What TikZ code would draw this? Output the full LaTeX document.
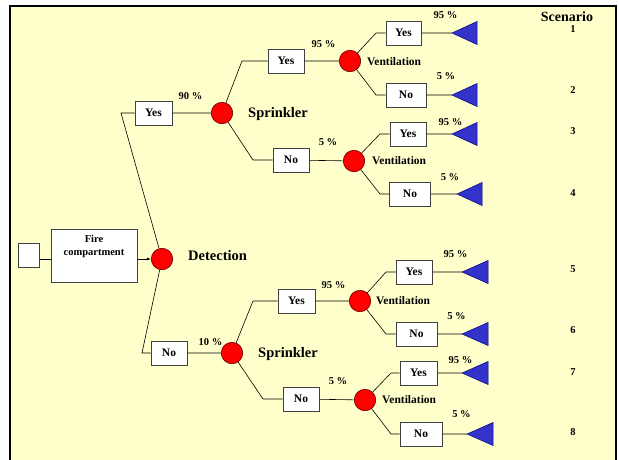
\documentclass[tikz,border=0pt]{standalone}
\usepackage{fontspec}
\setmainfont{Liberation Serif}
\usetikzlibrary{arrows.meta}
\definecolor{bg}{HTML}{FFFFCC}
\definecolor{triblue}{HTML}{3333CC}
\begin{document}
\begin{tikzpicture}[x=1pt,y=-1pt,
  box/.style={draw=black!75, line width=1pt, fill=white, inner sep=0pt,
    minimum height=24pt, font=\fontsize{11.5}{12}\selectfont\bfseries},
  chance/.style={circle, draw=black!60!red, fill=red, minimum size=21.5pt, inner sep=0pt, line width=0.6pt},
  pct/.style={font=\fontsize{10.5}{12}\selectfont\bfseries, inner sep=0pt},
  big/.style={font=\fontsize{14.5}{16}\selectfont\bfseries, inner sep=0pt, anchor=west},
  vent/.style={font=\fontsize{11.5}{13}\selectfont\bfseries, inner sep=0pt, anchor=west},
  num/.style={font=\fontsize{10.5}{12}\selectfont\bfseries, inner sep=0pt},
  link/.style={draw, line width=0.6pt},
  tri/.style={fill=triblue, draw=black!50!blue, line width=0.5pt}]
\useasboundingbox (0,0) rectangle (619,459);
\begin{scope}
  \clip (0,0) rectangle (619,459);
  \draw[line width=2.5pt, fill=bg] (10,6) rectangle (616,480);
\end{scope}

% start
\node[box, minimum width=21pt, minimum height=24pt] (S) at (28.5,255) {};
\node[box, minimum width=86pt, minimum height=53pt, font=\fontsize{10.5}{12}\selectfont\bfseries] (F) at (94,255.5)
  {\parbox[t][46pt][t]{84pt}{\centering\vspace*{3pt}Fire\\[1pt]compartment}};
\node[chance] (D) at (162,259) {};
\node[big] (Dl) at (188,256) {Detection};
\draw[link] (S.east |- D) -- (F.west |- D);
\draw[link, -{Latex[length=4pt,width=3pt]}] (F.east |- D) -- (D);

% Detection yes
\coordinate (a1) at (121,113);
\node[box, minimum width=37pt] (Y1) at (153.5,113) {Yes};
\node[chance] (S1) at (222,113) {};
\node[pct] (p1) at (190.5,96) {90 \%};
\node[big] (S1l) at (248,114) {Sprinkler};
\draw[link] (D) -- (a1) -- (Y1) (Y1) -- (S1);

% Detection no
\coordinate (a2) at (142,353);
\node[box, minimum width=36pt] (N1) at (169,353) {No};
\node[chance] (S2) at (232,353) {};
\node[pct] (p2) at (210.5,342) {10 \%};
\node[big] (S2l) at (258,354) {Sprinkler};
\draw[link] (D) -- (a2) -- (N1) (N1) -- (S2);

% Sprinkler 1 yes
\coordinate (b1) at (242,61);
\node[box, minimum width=36pt] (Y2) at (286,61) {Yes};
\node[chance] (V1) at (350,61) {};
\node[pct] (p3) at (323.5,44) {95 \%};
\node[vent] (V1l) at (367,62) {Ventilation};
\draw[link] (S1) -- (b1) -- (Y2) (Y2) -- (V1);

% Sprinkler 1 no
\coordinate (b2) at (253,160);
\node[box, minimum width=36pt] (N2) at (291,160) {No};
\node[chance] (V2) at (354,161) {};
\node[pct] (p4) at (328,142) {5 \%};
\node[vent] (V2l) at (372,161) {Ventilation};
\draw[link] (S1) -- (b2) -- (N2) (N2) -- (V2);

% Ventilation 1
\coordinate (c1) at (376,33);
\node[box, minimum width=35pt] (Y3) at (403.5,33) {Yes};
\coordinate (T1) at (452,33);
\node[pct] (p5) at (445.5,15) {95 \%};
\draw[link] (V1) -- (c1) -- (Y3) (Y3) -- (T1);
\draw[tri] (T1) -- ++(25,-11.5) -- ++(0,23) -- cycle;

\coordinate (c2) at (376,95);
\node[box, minimum width=40pt] (N3) at (406,95) {No};
\coordinate (T2) at (452,95);
\node[pct] (p6) at (446,76) {5 \%};
\draw[link] (V1) -- (c2) -- (N3) (N3) -- (T2);
\draw[tri] (T2) -- ++(25,-11.5) -- ++(0,23) -- cycle;

% Ventilation 2
\coordinate (c3) at (380,134);
\node[box, minimum width=36pt] (Y4) at (408,134) {Yes};
\coordinate (T3) at (452,134);
\node[pct] (p7) at (450.5,122) {95 \%};
\draw[link] (V2) -- (c3) -- (Y4) (Y4) -- (T3);
\draw[tri] (T3) -- ++(25,-11.5) -- ++(0,23) -- cycle;

\coordinate (c4) at (380,194);
\node[box, minimum width=41pt] (N4) at (410,194) {No};
\coordinate (T4) at (457,194);
\node[pct] (p8) at (450,177) {5 \%};
\draw[link] (V2) -- (c4) -- (N4) (N4) -- (T4);
\draw[tri] (T4) -- ++(25,-11.5) -- ++(0,23) -- cycle;

% Sprinkler 2 yes
\coordinate (b3) at (253,301);
\node[box, minimum width=37pt] (Y5) at (296.5,301) {Yes};
\node[chance] (V3) at (360,301) {};
\node[pct] (p9) at (333.5,285) {95 \%};
\node[vent] (V3l) at (376,301) {Ventilation};
\draw[link] (S2) -- (b3) -- (Y5) (Y5) -- (V3);

% Sprinkler 2 no
\coordinate (b4) at (263,399);
\node[box, minimum width=36pt] (N5) at (301,399) {No};
\node[chance] (V4) at (365,400) {};
\node[pct] (p10) at (338,381) {5 \%};
\node[vent] (V4l) at (382,400) {Ventilation};
\draw[link] (S2) -- (b4) -- (N5) (N5) -- (V4);

% Ventilation 3
\coordinate (c5) at (386,272);
\node[box, minimum width=36pt] (Y6) at (414,272) {Yes};
\coordinate (T5) at (462,272);
\node[pct] (p11) at (455.5,254) {95 \%};
\draw[link] (V3) -- (c5) -- (Y6) (Y6) -- (T5);
\draw[tri] (T5) -- ++(26,-11.5) -- ++(0,23) -- cycle;

\coordinate (c6) at (386,334);
\node[box, minimum width=41pt] (N6) at (416.5,334) {No};
\coordinate (T6) at (462,334);
\node[pct] (p12) at (456.5,316) {5 \%};
\draw[link] (V3) -- (c6) -- (N6) (N6) -- (T6);
\draw[tri] (T6) -- ++(26,-11.5) -- ++(0,23) -- cycle;

% Ventilation 4
\coordinate (c7) at (391,373);
\node[box, minimum width=37pt] (Y7) at (418.5,373) {Yes};
\coordinate (T7) at (462,373);
\node[pct] (p13) at (460.5,360) {95 \%};
\draw[link] (V4) -- (c7) -- (Y7) (Y7) -- (T7);
\draw[tri] (T7) -- ++(26,-11.5) -- ++(0,23) -- cycle;

\coordinate (c8) at (391,434);
\node[box, minimum width=42pt] (N7) at (421,434) {No};
\coordinate (T8) at (467,434);
\node[pct] (p14) at (461.5,414) {5 \%};
\draw[link] (V4) -- (c8) -- (N7) (N7) -- (T8);
\draw[tri] (T8) -- ++(26,-11.5) -- ++(0,23) -- cycle;

% scenarios
\node[font=\fontsize{14}{15}\selectfont\bfseries, inner sep=0pt] (sc) at (567,17) {Scenario};
\node[num] (n1) at (573,29) {1};
\node[num] (n2) at (573,90) {2};
\node[num] (n3) at (573,131) {3};
\node[num] (n4) at (573,193) {4};
\node[num] (n5) at (573,269) {5};
\node[num] (n6) at (573,330) {6};
\node[num] (n7) at (573,372) {7};
\node[num] (n8) at (573,432) {8};
\end{tikzpicture}
\end{document}
